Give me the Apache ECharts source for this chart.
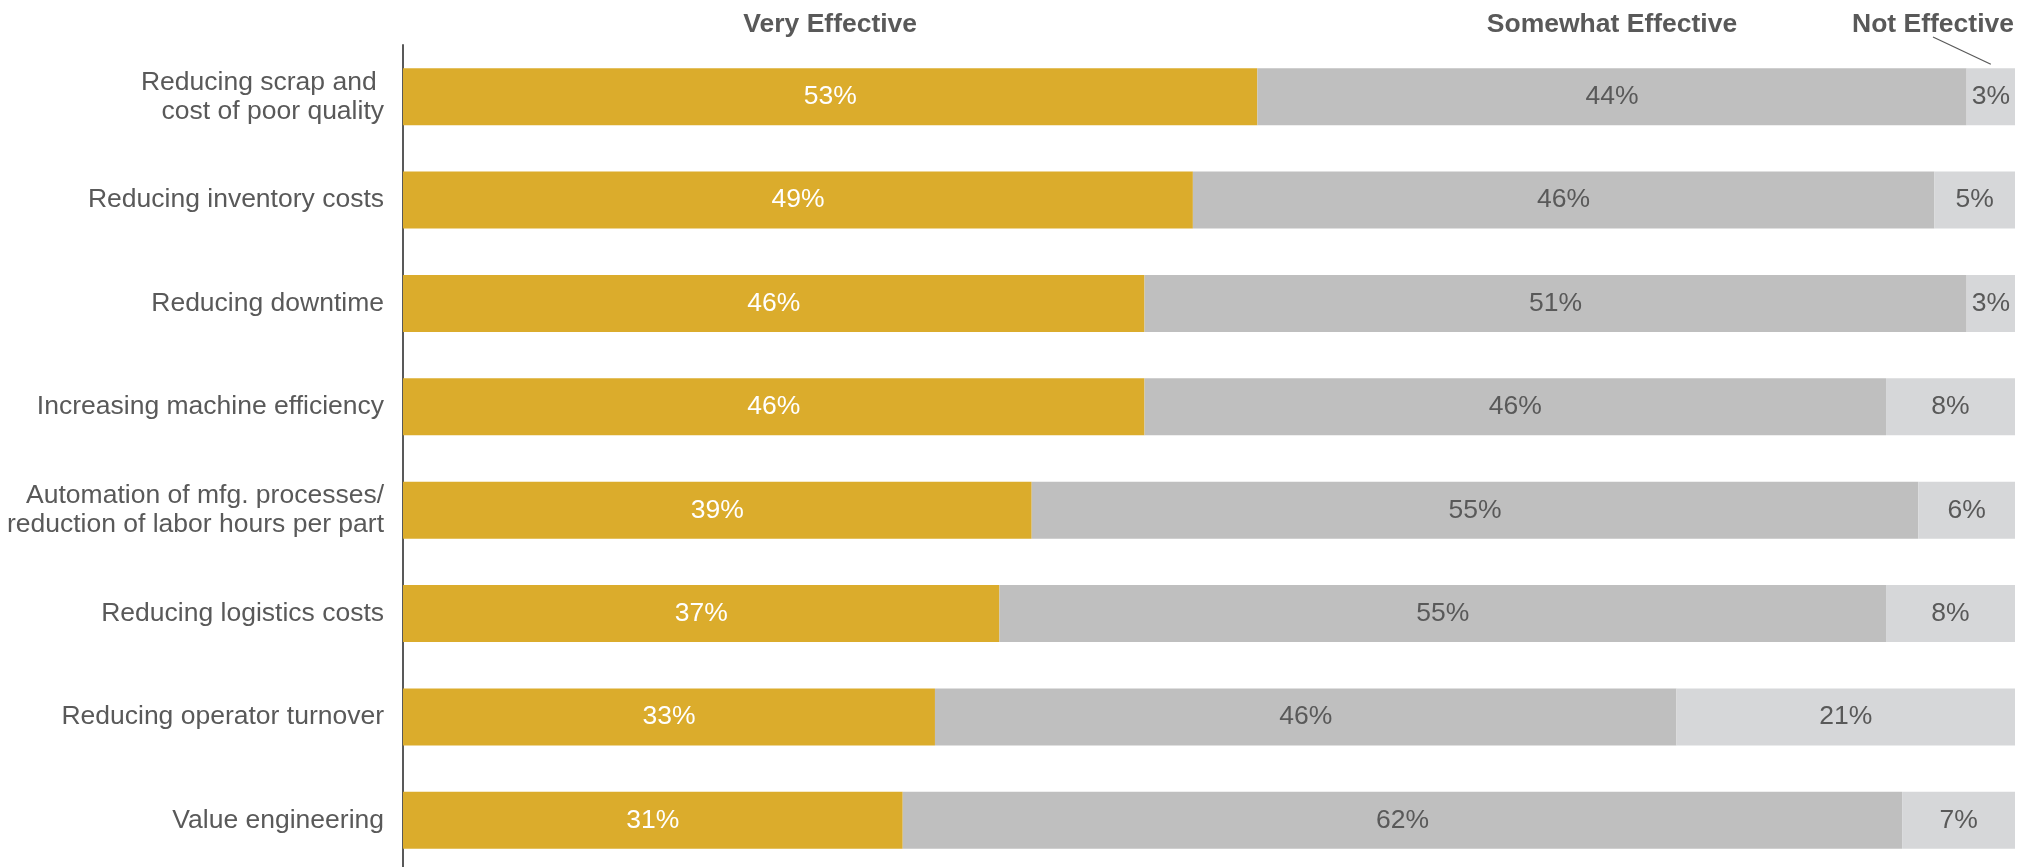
<!DOCTYPE html>
<html>
<head>
<meta charset="utf-8">
<title>Effectiveness by initiative</title>
<script src="https://cdn.jsdelivr.net/npm/echarts@6/dist/echarts.min.js"></script>
<style>
  html, body { margin: 0; padding: 0; background: #ffffff; }
  #chart { width: 2035px; height: 867px; }
</style>
</head>
<body>
<div id="chart"></div>
<script>
// Initiatives, top to bottom
const categories = [
  'Reducing scrap and \ncost of poor quality',
  'Reducing inventory costs',
  'Reducing downtime',
  'Increasing machine efficiency',
  'Automation of mfg. processes/\nreduction of labor hours per part',
  'Reducing logistics costs',
  'Reducing operator turnover',
  'Value engineering'
];

// Share of respondents (%) per rating
const veryEffective     = [53, 49, 46, 46, 39, 37, 33, 31];
const somewhatEffective = [44, 46, 51, 46, 55, 55, 46, 62];
const notEffective      = [ 3,  5,  3,  8,  6,  8, 21,  7];

const segmentNames = ['Very Effective', 'Somewhat Effective', 'Not Effective'];

const FONT = '"Liberation Sans", Arial, Helvetica, sans-serif';
const FONT_SIZE = 26.5;
const TEXT_GREY = '#595959';
const COLORS = ['#DBAC2C', '#BFBFBF', '#D6D7D9'];
const LABEL_COLORS = ['#FFFFFF', TEXT_GREY, TEXT_GREY];

const chart = echarts.init(document.getElementById('chart'), null, { renderer: 'canvas' });

function segment(name, values, idx) {
  return {
    name: name,
    type: 'bar',
    stack: 'total',
    data: values,
    barWidth: 57,
    itemStyle: { color: COLORS[idx] },
    label: {
      show: true,
      position: 'inside',
      formatter: p => p.value + '%',
      color: LABEL_COLORS[idx],
      fontFamily: FONT,
      fontSize: FONT_SIZE
    },
    emphasis: { disabled: true },
    animation: false
  };
}

chart.setOption({
  animation: false,
  grid: {
    left: 403,
    right: 20,
    top: 45,
    height: 827,
    containLabel: false,
    outerBoundsMode: 'none'
  },
  xAxis: {
    type: 'value',
    min: 0,
    max: 100,
    show: false
  },
  yAxis: {
    type: 'category',
    data: categories,
    inverse: true,
    axisLine: { show: true, lineStyle: { color: TEXT_GREY, width: 2 } },
    axisTick: { show: false },
    splitLine: { show: false },
    axisLabel: {
      margin: 19,
      color: TEXT_GREY,
      fontFamily: FONT,
      fontSize: FONT_SIZE,
      lineHeight: 29,
      align: 'right'
    }
  },
  series: [
    segment(segmentNames[0], veryEffective, 0),
    segment(segmentNames[1], somewhatEffective, 1),
    segment(segmentNames[2], notEffective, 2)
  ]
});

// Column headings placed over the first row's segments
const firstCat = categories[0];
const v0 = veryEffective[0], s0 = somewhatEffective[0], n0 = notEffective[0];
const px = v => chart.convertToPixel({ gridIndex: 0 }, [v, firstCat]);
const veryMid = px(v0 / 2);
const someMid = px(v0 + s0 / 2);
const endPt = px(v0 + s0 + n0);
const notMid = px(v0 + s0 + n0 / 2);
const barTop = notMid[1] - 57 / 2;

const headStyle = {
  fontFamily: FONT,
  fontSize: FONT_SIZE,
  fontWeight: 'bold',
  fill: TEXT_GREY,
  verticalAlign: 'middle'
};

const notWidth = echarts.format.getTextRect
  ? echarts.format.getTextRect(segmentNames[2], 'bold ' + FONT_SIZE + 'px ' + FONT).width
  : 160;

chart.setOption({
  graphic: [
    { type: 'text', x: veryMid[0], y: 25, style: Object.assign({ text: segmentNames[0], align: 'center' }, headStyle) },
    { type: 'text', x: someMid[0], y: 25, style: Object.assign({ text: segmentNames[1], align: 'center' }, headStyle) },
    { type: 'text', x: endPt[0] - 1, y: 25, style: Object.assign({ text: segmentNames[2], align: 'right' }, headStyle) },
    {
      type: 'line',
      shape: { x1: endPt[0] - 1 - notWidth / 2, y1: 37, x2: notMid[0], y2: barTop - 4 },
      style: { stroke: TEXT_GREY, lineWidth: 1.2 }
    }
  ]
});
</script>
</body>
</html>
